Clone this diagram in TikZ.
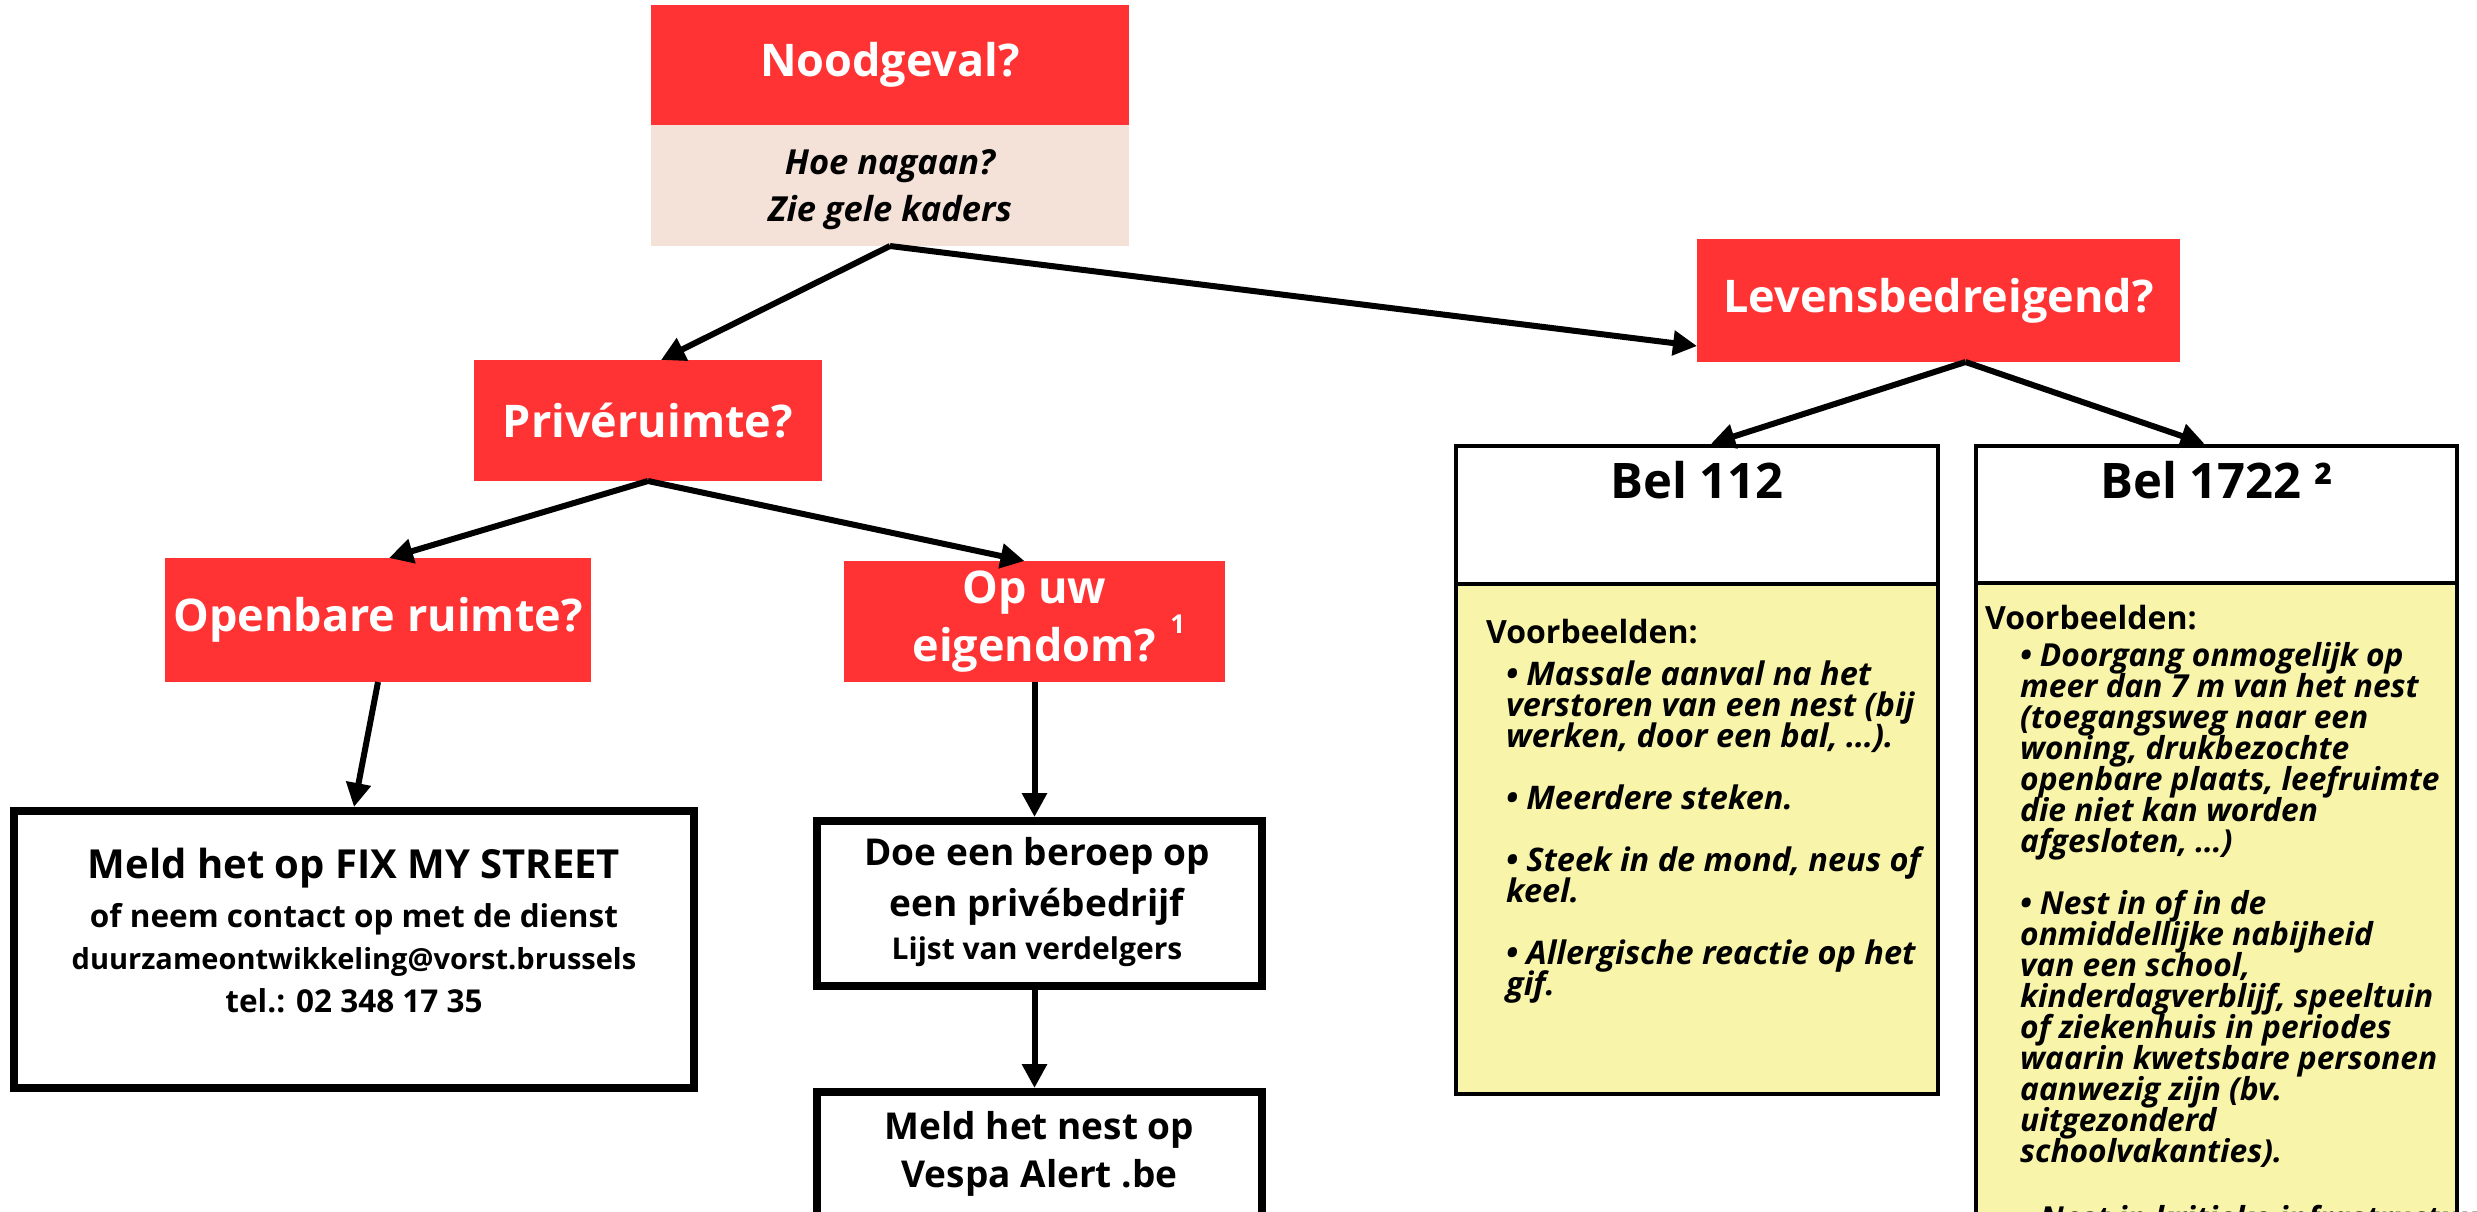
\documentclass[tikz,border=0pt]{standalone}
\usepackage{fontspec}
\setmainfont{Open Sans}
\usetikzlibrary{arrows.meta,positioning}
\definecolor{alarm}{HTML}{FF3333}
\definecolor{beige}{HTML}{F4E2D8}
\definecolor{geel}{HTML}{F8F5AA}
\newcommand\fsz[2]{\fontsize{#1}{#2}\selectfont}
\lineskiplimit=-\maxdimen

\begin{document}
\begin{tikzpicture}[x=1pt,y=-1pt,>={Triangle[length=24pt,width=24pt]},
		vraag/.style={rectangle,fill=alarm,text=white,font=\bfseries\fsz{45}{58},align=center,inner sep=0pt,outer sep=0pt},
		kader/.style={rectangle,draw,line width=8pt,fill=white,inner sep=0pt},
		belkop/.style={rectangle,draw,line width=4.5pt,fill=white,inner sep=0pt},
		belgeel/.style={rectangle,draw,line width=4.5pt,fill=geel,inner sep=0pt},
		lijst/.style={anchor=base west,align=left,inner sep=0pt,font=\bfseries\itshape\fsz{32}{31}},
		voorb/.style={anchor=base west,inner sep=0pt,font=\bfseries\fsz{32}{31}}]
			\useasboundingbox (0,0) rectangle (2477,1212);
			\clip (0,0) rectangle (2477,1212);
			% vragen
			\node[vraag, minimum width=478, minimum height=120] (nood) at (890,65) {Noodgeval?};
			\node[vraag, fill=beige, text=black, minimum width=478, minimum height=121, text depth=0pt, font=\bfseries\itshape\fsz{34.5}{47}] (hoe) [below=0pt of nood] {Hoe nagaan?\\Zie gele kaders};
			\node[vraag, minimum width=348, minimum height=121] (prive) at (648,420.5) {Privéruimte?};
			\node[vraag, minimum width=426, minimum height=124] (openbaar) at (378,620) {Openbare ruimte?};
			\node[vraag, minimum width=381, minimum height=121] (eigen) at (1034.5,621.5) {Op uw\\eigendom?\rlap{\hspace{14pt}\raisebox{28pt}{\fsz{26}{26}1}}};
			\node[vraag, minimum width=483, minimum height=123] (leven) at (1938.5,300.5) {Levensbedreigend?};
			% kaders (tekst: anker op de laatste regel)
			\node[kader, minimum width=680, minimum height=277] (fix) at (354,949.5) {};
			\node[anchor=base, align=center, inner sep=0pt, font=\bfseries\fsz{31.5}{42.5}] (fixtxt) at (354,1012) {\fsz{40}{49}Meld het op FIX MY STREET\\[6pt]
				of neem contact op met de dienst\\\fsz{29}{42.5}duurzameontwikkeling@vorst.brussels\\tel.: 02 348 17 35};
			\node[kader, minimum width=445, minimum height=165] (doe) at (1039.5,903.5) {};
			\node[anchor=base, align=center, inner sep=0pt, font=\bfseries\fsz{30}{43}] (doetxt) at (1037,959) {\fsz{37}{51}Doe een beroep op\\[8pt]\fsz{37}{51}een privébedrijf\\Lijst van verdelgers};
			\node[kader, minimum width=445, minimum height=168] (nest) at (1039.5,1176) {};
			\node[anchor=base, align=center, inner sep=0pt, font=\bfseries\fsz{37}{48}] (nesttxt) at (1039.5,1187) {Meld het nest op\\Vespa Alert .be};
			% bellen
			\node[belkop, minimum width=482, minimum height=138] (bel112) at (1697,515) {};
			\node[belgeel, minimum width=482, minimum height=510] (geel112) at (1697,839) {};
			\node[inner sep=0pt, font=\bfseries\fsz{49}{49}] (t112) at (1697,480) {Bel 112};
			\node[belkop, minimum width=481, minimum height=137] (bel1722) at (2216.5,514.5) {};
			\node[belgeel, minimum width=481, minimum height=677] (geel1722) at (2216.5,921.5) {};
			\node[inner sep=0pt, font=\bfseries\fsz{49}{49}] (t1722) at (2216.5,480) {Bel 1722 ²};
			\node[voorb] (v112) at (1486,643) {Voorbeelden:};
			\node[lijst, font=\bfseries\itshape\fsz{32.5}{31}] (l112) at (1506,995) {• Massale aanval na het\\verstoren van een nest (bij\\werken, door een bal, …).\\[31pt]
				• Meerdere steken.\\[31pt]
				• Steek in de mond, neus of\\keel.\\[31pt]
				• Allergische reactie op het\\gif.};
			\node[voorb] (v1722) at (1985,629) {Voorbeelden:};
			\node[lijst, font=\bfseries\itshape\fsz{31.7}{31}] (l1722) at (2020,1229) {• Doorgang onmogelijk op\\meer dan 7 m van het nest\\(toegangsweg naar een\\woning, drukbezochte\\openbare plaats, leefruimte\\die niet kan worden\\afgesloten, …)\\[31pt]
				• Nest in of in de\\onmiddellijke nabijheid\\van een school,\\kinderdagverblijf, speeltuin\\of ziekenhuis in periodes\\waarin kwetsbare personen\\aanwezig zijn (bv.\\uitgezonderd\\schoolvakanties).\\[36pt]
				• Nest in kritieke infrastructuur};
			% pijlen
			\path[->, line width=6pt]
			(hoe.south) edge ([xshift=13pt]prive.north)
			edge ([yshift=16pt]leven.south west)
			(prive.south) edge ([xshift=11pt]openbaar.north)
			edge ([xshift=-10pt]eigen.north)
			([xshift=27pt]leven.south) edge ([xshift=14pt]bel112.north)
			edge ([xshift=-12pt]bel1722.north)
			(openbaar.south) edge (fix.north)
			(eigen.south) edge (eigen.south |- doe.north)
			(eigen.south |- doe.south) edge (eigen.south |- nest.north);
		\end{tikzpicture}
\end{document}
